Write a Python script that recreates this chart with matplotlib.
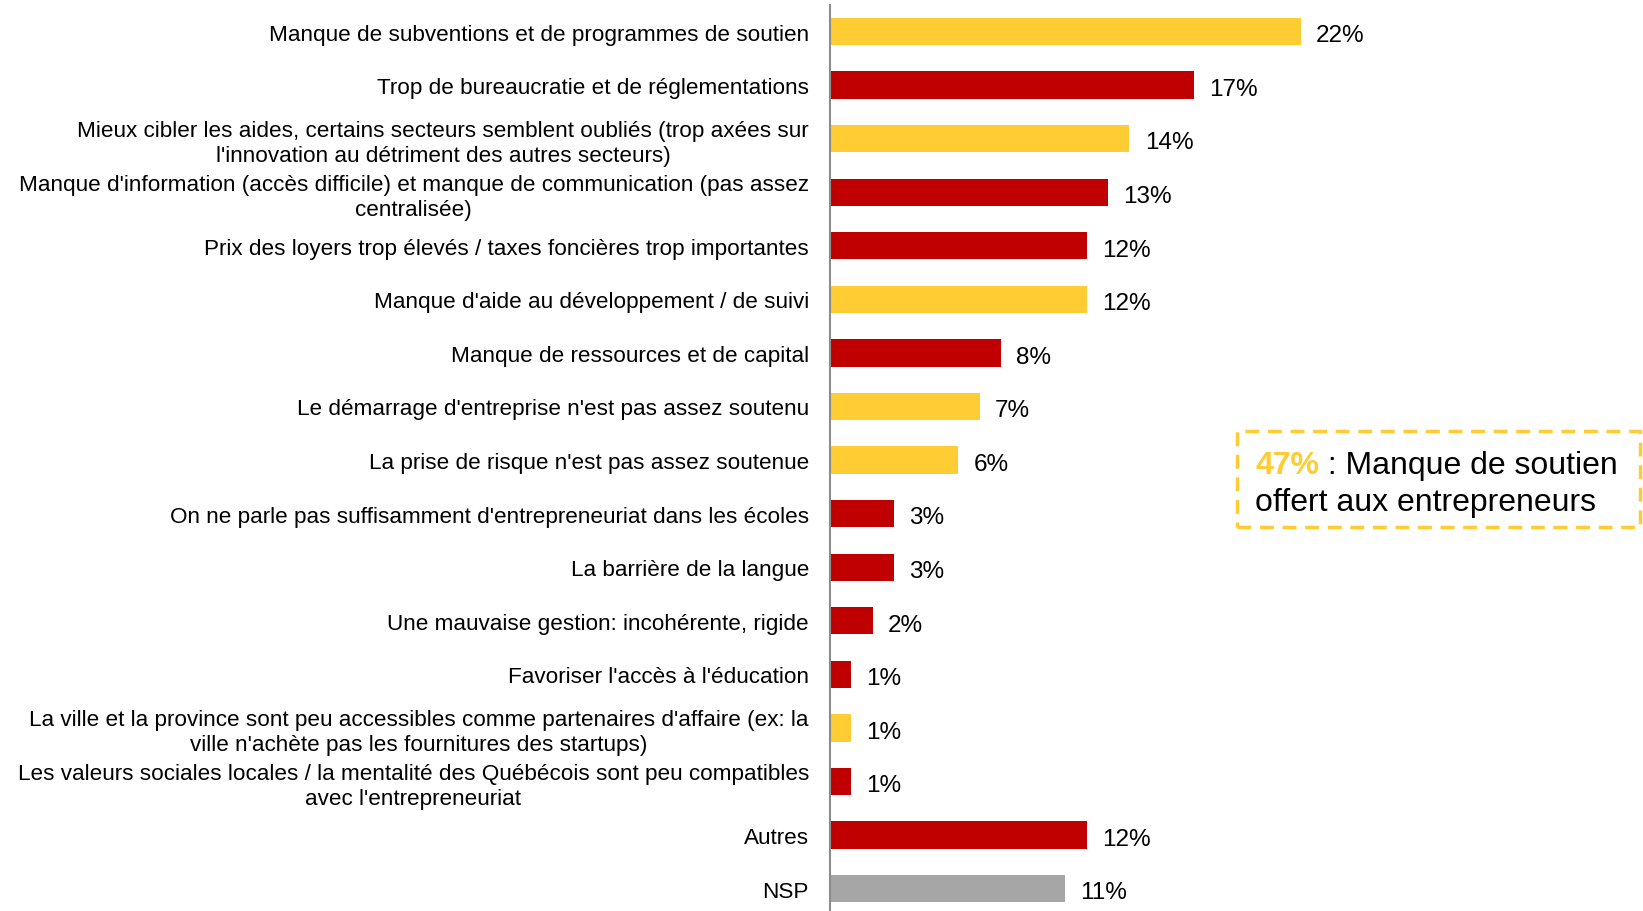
import matplotlib
matplotlib.use("Agg")
import matplotlib.pyplot as plt
from matplotlib.patches import Rectangle

plt.rcParams['font.family'] = ['Liberation Sans', 'DejaVu Sans']

YELLOW = "#FFCC33"
RED = "#C00000"
GREY = "#A6A6A6"

labels = [
    "Manque de subventions et de programmes de soutien",
    "Trop de bureaucratie et de réglementations",
    "Mieux cibler les aides, certains secteurs semblent oubliés (trop axées sur\nl'innovation au détriment des autres secteurs)",
    "Manque d'information (accès difficile) et manque de communication (pas assez\ncentralisée)",
    "Prix des loyers trop élevés / taxes foncières trop importantes",
    "Manque d'aide au développement / de suivi",
    "Manque de ressources et de capital",
    "Le démarrage d'entreprise n'est pas assez soutenu",
    "La prise de risque n'est pas assez soutenue",
    "On ne parle pas suffisamment d'entrepreneuriat dans les écoles",
    "La barrière de la langue",
    "Une mauvaise gestion: incohérente, rigide",
    "Favoriser l'accès à l'éducation",
    "La ville et la province sont peu accessibles comme partenaires d'affaire (ex: la\nville n'achète pas les fournitures des startups)",
    "Les valeurs sociales locales / la mentalité des Québécois sont peu compatibles\navec l'entrepreneuriat",
    "Autres",
    "NSP",
]
values = [22, 17, 14, 13, 12, 12, 8, 7, 6, 3, 3, 2, 1, 1, 1, 12, 11]
groups = ["y", "r", "y", "r", "r", "y", "r", "y", "y", "r", "r", "r", "r", "y", "r", "r", "g"]
color_map = {"y": YELLOW, "r": RED, "g": GREY}

fig = plt.figure(figsize=(16.43, 9.12), dpi=100)
ax = fig.add_axes([0.505, -0.0048, 0.495, 0.9985])

ypos = list(range(len(values)))
ax.barh(ypos, values, height=0.51, color=[color_map[g] for g in groups])
for y, v in zip(ypos, values):
    ax.text(v + 0.72, y + 0.07, f"{v}%", va="center", ha="left", fontsize=17.5)

ax.set_ylim(len(values) - 0.5, -0.5)
ax.set_xlim(0, 38)
ax.set_yticks(ypos)
ax.set_yticklabels(labels, fontsize=16.2, multialignment="center", linespacing=1.25)
ax.tick_params(axis="y", length=0, pad=15)
ax.set_xticks([])
for side in ["top", "right", "bottom"]:
    ax.spines[side].set_visible(False)
ax.spines["left"].set_color("#8C8C8C")
ax.spines["left"].set_linewidth(1.5)

# dashed call-out box
box = Rectangle((0.753, 0.421), 0.245, 0.105, transform=fig.transFigure,
                fill=False, edgecolor=YELLOW, linewidth=2.5, linestyle=(0, (4, 2.5)))
fig.patches.append(box)
t1 = fig.text(0.764, 0.4895, "47%", color=YELLOW, fontsize=23, fontweight="bold",
              va="center", ha="left")
ax.annotate(" : Manque de soutien", xy=(1, 0.5), xycoords=t1, va="center", ha="left",
            fontsize=23, color="black", annotation_clip=False)
fig.text(0.764, 0.4485, "offert aux entrepreneurs", fontsize=23, va="center", ha="left")

fig.savefig("out.png", dpi=100)
